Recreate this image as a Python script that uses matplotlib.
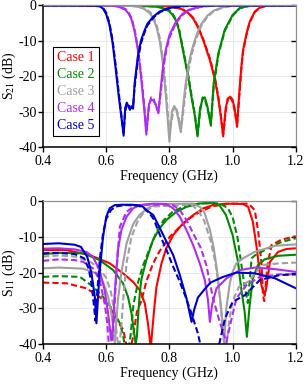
import matplotlib
matplotlib.use('Agg')
import matplotlib.pyplot as plt
from matplotlib import rcParams

rcParams['font.family'] = ['Liberation Serif', 'DejaVu Serif']
rcParams['mathtext.fontset'] = 'stix'
rcParams['axes.unicode_minus'] = False

cases = ['Case 1', 'Case 2', 'Case 3', 'Case 4', 'Case 5']
colors = ['#FF0000', '#008A00', '#A0A0A0', '#B02CF0', '#0000CC']
xticks = [0.4, 0.6, 0.8, 1.0, 1.2]
xticklabels = ['0.4', '0.6', '0.8', '1.0', '1.2']
yticks = [0, -10, -20, -30, -40]

# ---- S21, solid / dashed (same frequency grid per case)
s21_f1 = [0.40, 0.75, 0.80, 0.82, 0.84, 0.86, 0.875, 0.89, 0.907, 0.928, 0.944, 0.955, 0.962, 0.970, 0.978, 0.985,
          0.992, 0.999, 1.006, 1.014, 1.02, 1.027, 1.033, 1.044, 1.054, 1.070, 1.086, 1.107, 1.20]
s21_s1 = [-0.1, -0.2, -0.4, -0.7, -1.2, -2.3, -3.8, -6.2, -9.9, -15.5, -21, -26.5, -31, -37, -29, -26.5,
          -25.8, -26.5, -29, -34.3, -26, -18, -12.7, -8, -4.7, -1.9, -0.7, -0.2, -0.1]
s21_d1 = [-0.1, -0.2, -0.4, -0.7, -1.1, -2.2, -3.6, -6.0, -9.6, -15, -20.5, -26, -30.5, -36.5, -30, -26,
          -26, -27, -29.5, -33.5, -27, -18.5, -13.2, -8.3, -4.9, -2.0, -0.8, -0.2, -0.1]

s21_f2 = [0.40, 0.70, 0.76, 0.78, 0.80, 0.81, 0.82, 0.83, 0.84, 0.85, 0.86, 0.87, 0.88, 0.889, 0.897, 0.905,
          0.912, 0.92, 0.931, 0.94, 0.955, 0.975, 1.00, 1.023, 1.05, 1.10, 1.20]
s21_s2 = [-0.1, -0.2, -0.5, -0.9, -1.8, -2.8, -4.3, -7, -11.5, -16, -20.5, -26, -31, -37, -29, -26.5,
          -26, -28.5, -34, -22, -13.5, -7, -2.8, -0.8, -0.3, -0.1, -0.1]
s21_d2 = [-0.1, -0.2, -0.4, -0.8, -1.6, -2.5, -4.0, -6.5, -11, -15.5, -20, -25.5, -30.5, -36.5, -30, -26,
          -26.5, -29, -33, -23, -14, -7.3, -3.0, -0.9, -0.3, -0.1, -0.1]

s21_f3 = [0.40, 0.60, 0.68, 0.70, 0.72, 0.74, 0.75, 0.76, 0.77, 0.78, 0.79, 0.80, 0.808, 0.815, 0.822, 0.83,
          0.836, 0.842, 0.85, 0.86, 0.87, 0.88, 0.89, 0.90, 0.92, 0.94, 0.97, 1.00, 1.05, 1.20]
s21_s3 = [-0.1, -0.1, -0.3, -0.5, -1.1, -2.5, -4.0, -6.5, -10.5, -17, -27, -38.5, -30, -28.5, -29.5, -33,
          -35.8, -30, -23, -17, -13, -10, -7.5, -5.5, -3.0, -1.6, -0.6, -0.2, -0.1, -0.1]
s21_d3 = [-0.1, -0.1, -0.2, -0.4, -0.9, -2.1, -3.5, -5.8, -9.5, -15.5, -25, -36, -32, -28.5, -29, -32,
          -35, -31.5, -25, -18.5, -14, -10.8, -8.2, -6, -3.3, -1.8, -0.7, -0.2, -0.1, -0.1]

s21_f4 = [0.40, 0.55, 0.62, 0.64, 0.66, 0.67, 0.68, 0.69, 0.70, 0.71, 0.72, 0.727, 0.735, 0.742, 0.75, 0.757,
          0.765, 0.772, 0.78, 0.79, 0.80, 0.82, 0.84, 0.86, 0.90, 0.95, 1.20]
s21_s4 = [-0.1, -0.1, -0.2, -0.5, -1.3, -2.3, -4.0, -7.5, -12.5, -20, -29, -36.5, -28, -26.5, -27, -28,
          -30.5, -24, -17, -12, -8.5, -4.8, -2.6, -1.4, -0.4, -0.1, -0.1]
s21_d4 = [-0.1, -0.1, -0.2, -0.4, -1.1, -2.0, -3.6, -7.0, -12, -19, -28, -35.5, -29, -26, -26.5, -28.5,
          -30, -25, -18, -12.8, -9.2, -5.2, -2.9, -1.5, -0.5, -0.1, -0.1]

s21_f5 = [0.40, 0.50, 0.56, 0.58, 0.59, 0.60, 0.61, 0.62, 0.63, 0.64, 0.65, 0.655, 0.66, 0.665, 0.67, 0.675,
          0.68, 0.685, 0.69, 0.70, 0.71, 0.72, 0.73, 0.75, 0.77, 0.80, 0.85, 0.95, 1.20]
s21_s5 = [-0.1, -0.1, -0.2, -0.4, -1.0, -2.6, -5.5, -10.5, -18, -26, -33, -36.8, -29, -27.5, -28.5, -29.5,
          -28.5, -29.2, -22, -14.5, -10, -7.5, -5.3, -3.2, -1.8, -0.8, -0.2, -0.1, -0.1]
s21_d5 = [-0.1, -0.1, -0.2, -0.3, -0.8, -2.2, -5.0, -9.8, -17, -25, -32.5, -36, -30, -28, -28, -29,
          -29, -28.5, -23, -15.5, -10.8, -8, -5.8, -3.5, -2.0, -0.9, -0.3, -0.1, -0.1]

# ---- S11 solid
s11_sf1 = [0.40, 0.474, 0.548, 0.611, 0.653, 0.685, 0.706, 0.722, 0.732, 0.737, 0.741, 0.745, 0.752, 0.759, 0.775,
           0.79, 0.812, 0.843, 0.875, 0.907, 0.938, 0.98, 1.033, 1.049, 1.064, 1.075, 1.084, 1.091, 1.101, 1.107,
           1.118, 1.144, 1.17, 1.20]
s11_sv1 = [-13.7, -13.7, -15.1, -17.4, -20.2, -22.6, -24.9, -28.6, -34.2, -38, -41, -37, -30, -24, -17.4,
           -13.2, -9.5, -6.2, -3.9, -2, -1.1, -0.7, -0.8, -1.6, -5.8, -12.3, -18.8, -23.5, -26.3, -24,
           -17, -14.2, -13.4, -13.2]
s11_sf2 = [0.40, 0.45, 0.527, 0.579, 0.622, 0.653, 0.669, 0.68, 0.687, 0.693, 0.697, 0.701, 0.706, 0.711, 0.727,
           0.748, 0.769, 0.79, 0.822, 0.854, 0.896, 0.94, 0.958, 0.979, 1.0, 1.017, 1.027, 1.038, 1.045, 1.054,
           1.064, 1.08, 1.101, 1.144, 1.20]
s11_sv2 = [-14.8, -14.5, -14.6, -16.5, -19.3, -23, -26.8, -31.4, -36, -40, -38, -32, -26, -22, -16.5,
           -10.9, -7.6, -5.3, -3, -1.6, -0.65, -0.5, -1.1, -3.9, -9.5, -17, -24.4, -31, -38, -29,
           -21.6, -17.9, -16.3, -15.3, -15.0]
s11_sf3 = [0.40, 0.45, 0.527, 0.569, 0.59, 0.606, 0.616, 0.622, 0.627, 0.632, 0.637, 0.648, 0.654, 0.664, 0.675,
           0.685, 0.696, 0.706, 0.717, 0.738, 0.769, 0.875, 0.896, 0.91, 0.928, 0.94, 0.95, 0.96, 0.967, 0.973,
           0.98, 0.991, 1.0, 1.012, 1.033, 1.07, 1.134, 1.20]
s11_sv3 = [-18.8, -18.6, -18.9, -20.2, -22.6, -26.8, -31.4, -35, -39.8, -34, -27.7, -20, -17, -12, -9,
           -6.5, -5, -3.8, -3, -1.6, -0.8, -0.7, -1.6, -3, -8, -13, -19, -27, -33, -39.5,
           -30, -23, -19.8, -17.4, -16, -14.2, -12.5, -12.1]
s11_sf4 = [0.40, 0.45, 0.50, 0.537, 0.558, 0.579, 0.595, 0.606, 0.612, 0.616, 0.621, 0.627, 0.637, 0.648, 0.664,
           0.685, 0.706, 0.75, 0.79, 0.812, 0.833, 0.854, 0.875, 0.896, 0.912, 0.922, 0.928, 0.935, 0.949, 0.981,
           1.023, 1.07, 1.13, 1.20]
s11_sv4 = [-13.3, -13.2, -13.5, -14.2, -15.6, -19.3, -24.9, -31.4, -36, -39, -35, -26, -13.7, -8.1, -4.4,
           -2.0, -1.1, -0.7, -0.8, -2.0, -4.4, -8.1, -12.3, -17.4, -22.1, -27.7, -33.8, -29, -24.4, -21.6,
           -19.3, -18.6, -19.0, -19.8]
s11_sf5 = [0.40, 0.45, 0.50, 0.52, 0.54, 0.553, 0.564, 0.569, 0.574, 0.579, 0.59, 0.60, 0.611, 0.627, 0.65,
           0.68, 0.706, 0.717, 0.727, 0.749, 0.77, 0.791, 0.812, 0.833, 0.854, 0.862, 0.870, 0.878, 0.89, 0.91,
           0.93, 0.97, 1.012, 1.07, 1.134, 1.20]
s11_sv5 = [-12.0, -11.8, -12.2, -12.8, -15.6, -20, -26.8, -34.2, -27, -20, -10, -4.4, -2.0, -1.1, -1.0,
           -1.0, -1.2, -1.6, -2.5, -3.9, -7.6, -11.4, -15.1, -20.7, -27.2, -30.5, -33.8, -30.5, -27, -24.8,
           -22.8, -21.2, -20, -20.2, -21.6, -24.4]

# ---- S11 dashed
s11_df1 = [0.40, 0.474, 0.537, 0.579, 0.611, 0.633, 0.654, 0.665, 0.675, 0.685, 0.697, 0.711, 0.727, 0.748, 0.769,
           0.801, 0.833, 0.864, 0.896, 0.938, 0.991, 1.05, 1.07, 1.081, 1.091, 1.096, 1.1, 1.104, 1.11, 1.123,
           1.154, 1.20]
s11_dv1 = [-22.8, -23, -24.4, -26.8, -29.6, -33.3, -36, -41, -42, -38, -31, -28, -22.5, -17.5, -14,
           -10, -7.2, -4.8, -3, -1.4, -0.7, -0.7, -2.5, -8.6, -17, -26.3, -28, -24, -18, -12.3,
           -10.8, -9.8]
s11_df2 = [0.40, 0.45, 0.517, 0.559, 0.59, 0.622, 0.643, 0.652, 0.66, 0.67, 0.678, 0.686, 0.701, 0.717, 0.738,
           0.759, 0.78, 0.81, 0.85, 0.90, 0.96, 0.985, 1.0, 1.015, 1.028, 1.038, 1.048, 1.06, 1.07, 1.112,
           1.155, 1.20]
s11_dv2 = [-21.2, -21.0, -21.2, -24, -26.8, -30.5, -34.2, -37, -41, -42, -37, -29, -22.6, -17.9, -13.2,
           -8.6, -5.5, -3, -1.3, -0.6, -0.6, -2, -4.5, -10, -18, -24, -28.5, -16, -15.2, -13.2,
           -11.4, -10.4]
s11_df3 = [0.40, 0.45, 0.50, 0.55, 0.58, 0.60, 0.615, 0.625, 0.633, 0.64, 0.648, 0.655, 0.665, 0.68, 0.70,
           0.72, 0.75, 0.87, 0.89, 0.91, 0.93, 0.945, 0.955, 0.963, 0.97, 0.978, 0.99, 1.0, 1.02, 1.05,
           1.092, 1.15, 1.20]
s11_dv3 = [-15.5, -15.2, -15.5, -17, -19, -21.5, -25.5, -30.5, -37, -42, -35, -26, -17, -10, -5.5,
           -3, -1.5, -1, -2.5, -5.5, -11, -17, -23, -30, -38, -42, -33, -28, -24, -22.5,
           -17.9, -17.4, -17.2]
s11_df4 = [0.40, 0.45, 0.50, 0.527, 0.558, 0.579, 0.595, 0.603, 0.61, 0.617, 0.624, 0.632, 0.643, 0.664, 0.685,
           0.72, 0.81, 0.833, 0.854, 0.875, 0.90, 0.917, 0.938, 0.959, 0.98, 0.997, 1.012, 1.044, 1.086, 1.149,
           1.20]
s11_dv4 = [-16.7, -16.3, -16.5, -17, -18.8, -22, -28.6, -34, -42, -42, -33, -20, -7.2, -3.0, -1.6,
           -1.0, -1.0, -2.5, -5.3, -9, -13.2, -18, -27.2, -33.8, -39.4, -32.8, -27.2, -23.5, -21.2, -20.5,
           -20.5]
s11_df5 = [0.40, 0.45, 0.50, 0.53, 0.545, 0.555, 0.562, 0.566, 0.572, 0.58, 0.59, 0.60, 0.615, 0.63, 0.66,
           0.70, 0.72, 0.735, 0.75, 0.77, 0.79, 0.81, 0.83, 0.85, 0.87, 0.89, 0.90, 0.93, 0.955, 0.976,
           1.0, 1.039, 1.086, 1.149, 1.20]
s11_dv5 = [-14.6, -14.5, -14.8, -16, -19, -24, -30, -33.5, -25, -16, -9, -5, -2.5, -1.5, -1.1,
           -1.2, -2, -3.2, -5, -9.5, -13.5, -18, -22, -26.5, -31.5, -37, -41, -43, -41, -32.8,
           -28.2, -26.3, -22.1, -20.7, -20.5]

s21_solid = [(s21_f1, s21_s1), (s21_f2, s21_s2), (s21_f3, s21_s3), (s21_f4, s21_s4), (s21_f5, s21_s5)]
s21_dash = [(s21_f1, s21_d1), (s21_f2, s21_d2), (s21_f3, s21_d3), (s21_f4, s21_d4), (s21_f5, s21_d5)]
s11_solid = [(s11_sf1, s11_sv1), (s11_sf2, s11_sv2), (s11_sf3, s11_sv3), (s11_sf4, s11_sv4), (s11_sf5, s11_sv5)]
s11_dash = [(s11_df1, s11_dv1), (s11_df2, s11_dv2), (s11_df3, s11_dv3), (s11_df4, s11_dv4), (s11_df5, s11_dv5)]

fig = plt.figure(figsize=(3.05, 3.85), dpi=100)
ax1 = fig.add_axes([0.141, 0.618, 0.829, 0.369])
ax2 = fig.add_axes([0.141, 0.1065, 0.829, 0.371])


def style(ax, ylabel):
    ax.set_xlim(0.4, 1.2)
    ax.set_ylim(-40, 0)
    ax.set_xticks(xticks)
    ax.set_xticklabels(xticklabels)
    ax.set_yticks(yticks)
    ax.grid(True, color='#E4E4E4', lw=0.6)
    ax.set_axisbelow(True)
    for s in ['left', 'bottom']:
        ax.spines[s].set_linewidth(1.1)
    for s in ['top', 'right']:
        ax.spines[s].set_color('#909090')
        ax.spines[s].set_linewidth(0.9)
    ax.tick_params(direction='out', length=3.5, width=1, labelsize=10, pad=2)
    ax.tick_params(axis='y', right=True, which='major', pad=1)
    for t in ax.yaxis.get_ticklines()[1::2]:
        t.set_marker(0)
        t.set_color('#707070')
    ax.set_xlabel('Frequency (GHz)', fontsize=10, labelpad=1)
    ax.set_ylabel(ylabel, fontsize=10)
    ax.yaxis.set_label_coords(-0.100, 0.5)


for i in range(5):
    f, v = s21_dash[i]
    ax1.plot(f, v, color=colors[i], lw=1.5, ls=(0, (3, 1.2)))
    f, v = s21_solid[i]
    ax1.plot(f, v, color=colors[i], lw=1.5, label=cases[i])
    f, v = s11_dash[i]
    ax2.plot(f, v, color=colors[i], lw=1.5, ls=(0, (3, 1.5)))
    f, v = s11_solid[i]
    ax2.plot(f, v, color=colors[i], lw=1.5)

style(ax1, 'S$_{21}$ (dB)')
style(ax2, 'S$_{11}$ (dB)')

leg = ax1.legend(loc='lower left', bbox_to_anchor=(0.012, 0.03), handlelength=0, handletextpad=0,
                 fancybox=False, edgecolor='black', fontsize=10, labelspacing=0.28,
                 borderpad=0.3, framealpha=1, markerscale=0)
for h in leg.legend_handles:
    h.set_visible(False)
for txt, c in zip(leg.get_texts(), colors):
    txt.set_color(c)
leg.get_frame().set_linewidth(0.8)

fig.savefig('out.png', dpi=100)
